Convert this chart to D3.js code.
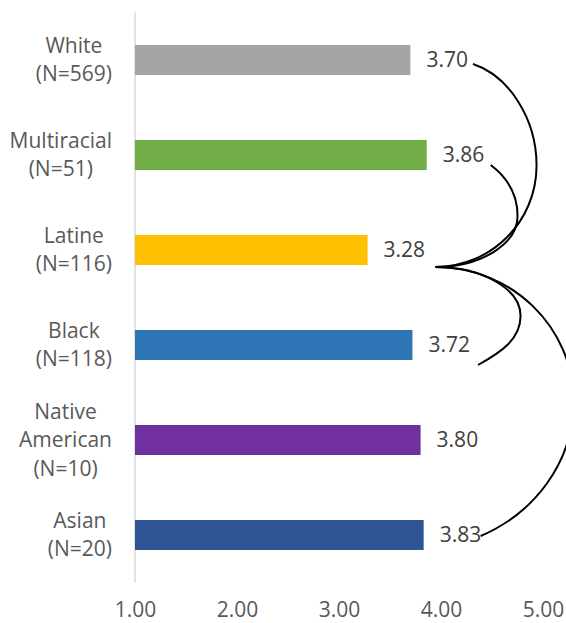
<!DOCTYPE html>
<html>
<head>
<meta charset="utf-8">
<script src="https://cdn.jsdelivr.net/npm/d3@7"></script>
<style>
  html, body { margin: 0; padding: 0; background: #fff; }
  svg { display: block; font-family: "Open Sans", "Noto Sans", sans-serif; }
</style>
</head>
<body>
<svg id="chart" width="566" height="623"></svg>
<script>
// ---- data ----
const categories = ["White", "Multiracial", "Latine", "Black", "Native American", "Asian"];
const labelLines = [["White", "(N=569)"], ["Multiracial", "(N=51)"], ["Latine", "(N=116)"],
                    ["Black", "(N=118)"], ["Native", "American", "(N=10)"], ["Asian", "(N=20)"]];
const values = [3.70, 3.86, 3.28, 3.72, 3.80, 3.83];
const barColors = ["#A5A5A5", "#70AD47", "#FFC000", "#2E75B6", "#7030A0", "#2F5597"];
const xTicks = [1, 2, 3, 4, 5];
// comparison brackets: from Latine to each of these groups
const bracketFrom = "Latine";
const bracketTo = ["White", "Multiracial", "Black", "Asian"];

// ---- layout / style ----
const W = 566, H = 623;
const plot = { left: 135, right: 543, top: 12.5, bottom: 582.5 };
const fontSize = 21;
const lineGap = 28.5;
// bracket geometry (pixel offsets)
const anchorOff = { dx: 68, dy: 17 };
const bracketStyle = [
  { dx: 62.6, dy: 4,  rx: 101, tilt: 18 },
  { dx: 64,   dy: 10, rx: 82,  tilt: 37 },
  { dx: 65.6, dy: 20, rx: 85,  tilt: 29 },
  { dx: 57,   dy: 1,  rx: 138, tilt: 23 }
];

const svg = d3.select("#chart");

const x = d3.scaleLinear().domain([1, 5]).range([plot.left, plot.right]);
const y = d3.scaleBand().domain(categories).range([plot.top, plot.bottom])
  .paddingInner(65 / 95).paddingOuter(65 / 95 / 2);
const yc = c => y(c) + y.bandwidth() / 2;

// vertical axis line
svg.append("line")
  .attr("x1", x(1)).attr("x2", x(1))
  .attr("y1", plot.top).attr("y2", plot.bottom)
  .attr("stroke", "#D9D9D9").attr("stroke-width", 1.5);

// bars
svg.append("g").selectAll("rect").data(categories).join("rect")
  .attr("x", x(1))
  .attr("y", c => y(c))
  .attr("width", (c, i) => x(values[i]) - x(1))
  .attr("height", y.bandwidth())
  .attr("fill", (c, i) => barColors[i]);

// value labels
svg.append("g").selectAll("text").data(categories).join("text")
  .attr("x", (c, i) => x(values[i]) + 16)
  .attr("y", c => yc(c) + 7)
  .attr("font-size", fontSize)
  .attr("fill", "#404040")
  .text((c, i) => values[i].toFixed(2));

// category labels (block right-aligned, lines centred)
const labelRight = 112;
categories.forEach((c, i) => {
  const lines = labelLines[i];
  const g = svg.append("g");
  const texts = lines.map((ln, j) => g.append("text")
    .attr("y", yc(c) + (j - (lines.length - 1) / 2) * lineGap + 7)
    .attr("font-size", fontSize)
    .attr("fill", "#595959")
    .attr("text-anchor", "middle")
    .text(ln));
  const maxW = d3.max(texts, t => t.node().getComputedTextLength());
  texts.forEach(t => t.attr("x", labelRight - maxW / 2));
});

// x axis
const xAxis = d3.axisBottom(x).tickValues(xTicks).tickFormat(d3.format(".2f"))
  .tickSize(0).tickPadding(19.5);
const ax = svg.append("g").attr("transform", `translate(0,${plot.bottom})`).call(xAxis);
ax.select(".domain").remove();
ax.selectAll("text").attr("font-size", fontSize).attr("fill", "#595959")
  .attr("font-family", "'Open Sans', 'Noto Sans', sans-serif");

// brackets
const fi = categories.indexOf(bracketFrom);
const A = [x(values[fi]) + anchorOff.dx, yc(bracketFrom) + anchorOff.dy];
const k = 0.552;
bracketTo.forEach((c, j) => {
  const ti = categories.indexOf(c);
  const s = bracketStyle[j];
  const E = [x(values[ti]) + s.dx, yc(c) + s.dy];
  const P = [A[0] + s.rx, (A[1] + E[1]) / 2];
  const dir = Math.sign(E[1] - A[1]); // -1 up, +1 down
  const hy1 = Math.abs(P[1] - A[1]);
  const hy2 = Math.abs(E[1] - P[1]);
  const hx2 = P[0] - E[0];
  const t = Math.tan(s.tilt * Math.PI / 180);
  const p = d3.path();
  p.moveTo(A[0], A[1]);
  p.bezierCurveTo(A[0] + k * s.rx, A[1], P[0], P[1] - dir * k * hy1, P[0], P[1]);
  p.bezierCurveTo(P[0], P[1] + dir * k * hy2 * 0.85,
                  E[0] + k * hx2, E[1] - dir * k * hx2 * t, E[0], E[1]);
  svg.append("path").attr("d", p.toString())
    .attr("fill", "none").attr("stroke", "#000").attr("stroke-width", 2);
});
</script>
</body>
</html>
